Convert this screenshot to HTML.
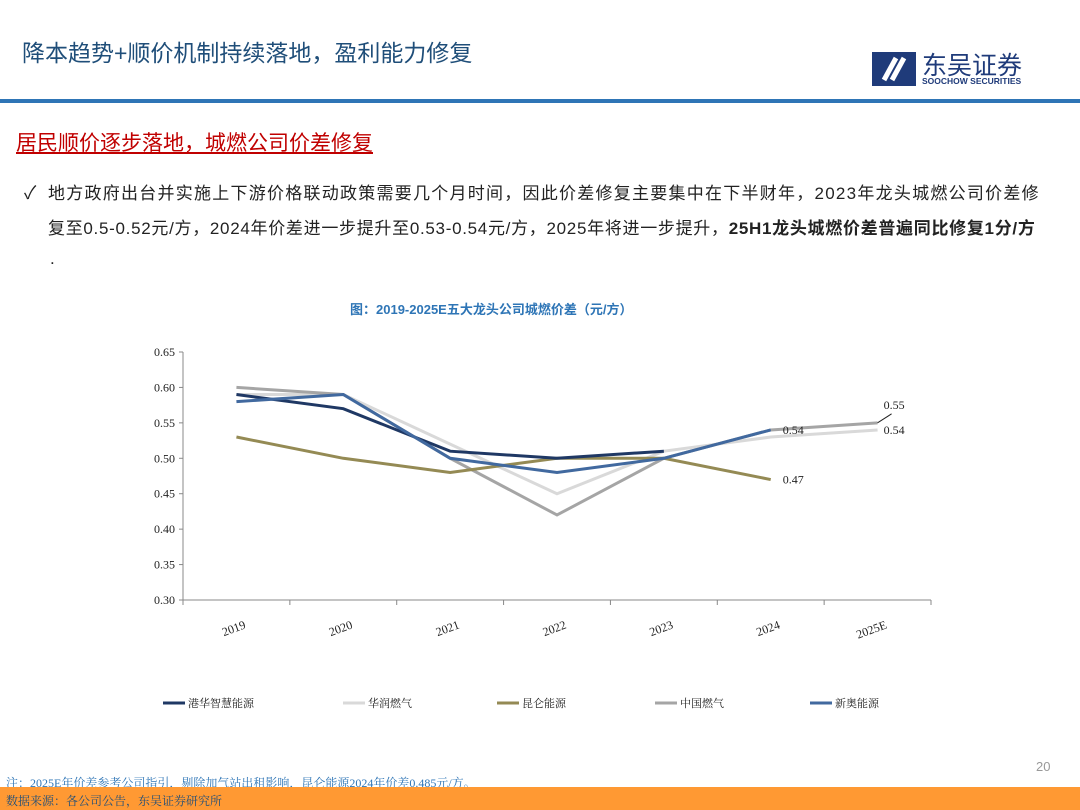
<!DOCTYPE html>
<html><head><meta charset="utf-8">
<style>
body{margin:0;width:1080px;height:810px;position:relative;overflow:hidden;background:#fff;font-family:"Liberation Sans","Noto Sans CJK SC",sans-serif;}
.abs{position:absolute;white-space:nowrap;}
</style></head><body>
<div class="abs" style="left:22px;top:34px;font-size:23px;color:#1f4e79;">降本趋势+顺价机制持续落地，盈利能力修复</div>
<div class="abs" style="left:870px;top:50px;width:170px;height:40px;">
<svg width="170" height="40"><rect x="2" y="2" width="44" height="34" fill="#1f3b7a"/><path d="M14 30 L26 8 M22 30 L34 8" stroke="#fff" stroke-width="5" fill="none"/></svg>
<div class="abs" style="left:52px;top:-4px;font-size:25px;color:#1f3b7a;">东吴证券</div>
<div class="abs" style="left:52px;top:26px;font-size:8.5px;font-weight:bold;color:#1f3b7a;">SOOCHOW SECURITIES</div>
</div>
<div class="abs" style="left:0;top:99px;width:1080px;height:4px;background:#2e75b6;"></div>
<div class="abs" style="left:16px;top:127px;font-size:21px;color:#c00000;text-decoration:underline;">居民顺价逐步落地，城燃公司价差修复</div>
<div class="abs" style="left:24px;top:179px;font-size:18px;color:#222;">✓</div>
<div class="abs" style="left:48px;top:179px;font-size:17px;color:#222;letter-spacing:1.25px;">地方政府出台并实施上下游价格联动政策需要几个月时间，因此价差修复主要集中在下半财年，2023年龙头城燃公司价差修</div>
<div class="abs" style="left:48px;top:214px;font-size:17px;color:#222;letter-spacing:0.7px;">复至0.5-0.52元/方，2024年价差进一步提升至0.53-0.54元/方，2025年将进一步提升，<b>25H1龙头城燃价差普遍同比修复1分/方</b></div>
<div class="abs" style="left:50px;top:249px;font-size:17px;color:#222;">.</div>
<div class="abs" style="left:350px;top:299px;font-size:13px;color:#2e75b6;font-weight:bold;">图：2019-2025E五大龙头公司城燃价差（元/方）</div>

<svg id="chart" class="abs" style="left:0;top:0" width="1080" height="760"></svg>

<div class="abs" style="left:1036px;top:759px;font-size:13px;color:#999;">20</div>
<div class="abs" style="left:6px;top:774px;font-size:12px;color:#2e75b6;font-family:'Liberation Serif','Noto Serif CJK SC',serif;">注：2025E年价差参考公司指引，剔除加气站出租影响，昆仑能源2024年价差0.485元/方。</div>
<div class="abs" style="left:0;top:787px;width:1080px;height:23px;background:#ff9933;"></div>
<div class="abs" style="left:6px;top:792px;font-size:12px;color:#1f4e79;font-family:'Liberation Serif','Noto Serif CJK SC',serif;">数据来源：各公司公告，东吴证券研究所</div>

<script>
const categories=["2019","2020","2021","2022","2023","2024","2025E"];
const seriesNames=["港华智慧能源","华润燃气","昆仑能源","中国燃气","新奥能源"];
const ganghua=[0.59,0.57,0.51,0.50,0.51,null,null];
const huarun=[0.59,0.59,0.52,0.45,0.51,0.53,0.54];
const kunlun=[0.53,0.50,0.48,0.50,0.50,0.47,null];
const zhongguo=[0.60,0.59,0.50,0.42,0.50,0.54,0.55];
const xinao=[0.58,0.59,0.50,0.48,0.50,0.54,null];
const yTicks=[0.30,0.35,0.40,0.45,0.50,0.55,0.60,0.65];
const endLabels=[["0.54",5,0.54,4],["0.47",5,0.47,2],["0.55",6,0.55,3],["0.54",6,0.54,1]];
const colors=["#1f3864","#d9d9d9","#948a54","#a5a5a5","#41699f"];
const allSeries=[huarun,zhongguo,kunlun,ganghua,xinao];
const svg=document.getElementById('chart');const NS="http://www.w3.org/2000/svg";
const x0=183,x1=931,yTop=352,yBot=600,ymin=0.30,ymax=0.65;
const bw=(x1-x0)/categories.length;
function X(i){return x0+bw*(i+0.5);}
function Y(v){return yBot-(v-ymin)/(ymax-ymin)*(yBot-yTop);}
function el(t,a){const e=document.createElementNS(NS,t);for(const k in a)e.setAttribute(k,a[k]);svg.appendChild(e);return e;}
let e=el('line',{x1:x0,y1:yTop,x2:x0,y2:yBot,stroke:'#888'});


e=el('line',{x1:x0,y1:yBot,x2:x1,y2:yBot,stroke:'#888'});


yTicks.forEach(v=>{
 el('line',{x1:x0-4,y1:Y(v),x2:x0,y2:Y(v),stroke:'#888'});
 const t=el('text',{x:x0-8,y:Y(v)+4,'text-anchor':'end','font-size':12,'font-family':'Liberation Serif',fill:'#222'});
 t.textContent=v.toFixed(2);
 
 
});
for(let i=0;i<=categories.length;i++){el('line',{x1:x0+bw*i,y1:yBot,x2:x0+bw*i,y2:yBot+5,stroke:'#888'});}
categories.forEach((c,i)=>{
 const t=el('text',{x:X(i)+10,y:yBot+28,'text-anchor':'end','font-size':12,'font-family':'Liberation Serif',fill:'#222',transform:`rotate(-20 ${X(i)+10} ${yBot+28})`});
 t.textContent=c;
 
 
});
const names=["huarun","zhongguo","kunlun","ganghua","xinao"];
const colorMap=[colors[1],colors[3],colors[2],colors[0],colors[4]];
allSeries.forEach((s,k)=>{
 let d='';s.forEach((v,i)=>{if(v!==null)d+=(d?'L':'M')+X(i)+' '+Y(v);});
 const p=el('path',{d:d,fill:'none',stroke:colorMap[k],'stroke-width':3});
 
 
});
endLabels.forEach(l=>{
 const t=el('text',{x:X(l[1])+(l[1]==6?6:12),y:Y(l[2])+(l[3]==3?-14:4),'font-size':12,'font-family':'Liberation Serif',fill:'#222'});
 t.textContent=l[0];
 
 
});
el('line',{x1:X(6),y1:Y(0.55),x2:X(6)+14,y2:Y(0.55)-9,stroke:'#222'});
const lx=[163,343,497,655,810];
seriesNames.forEach((n,k)=>{
 const g=el('line',{x1:lx[k],y1:703,x2:lx[k]+22,y2:703,stroke:colors[k],'stroke-width':3});
 
 
 const t=el('text',{x:lx[k]+25,y:707,'font-size':11,'font-family':'Liberation Serif, Noto Serif CJK SC, serif',fill:'#222'});
 t.textContent=n;
 
 
});
</script>
</body></html>
